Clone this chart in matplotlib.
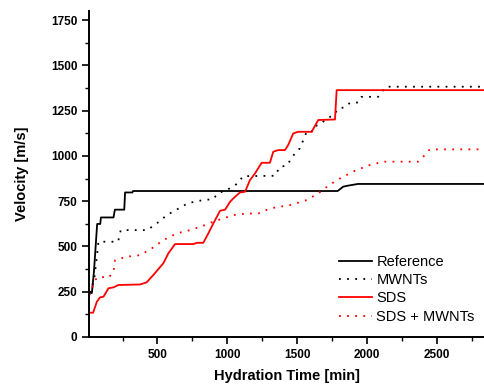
import matplotlib.pyplot as plt
from matplotlib.ticker import MultipleLocator

plt.rcParams['font.family'] = ['Liberation Sans', 'DejaVu Sans']

# Reference
ref_t = [10, 30, 45, 68, 90, 95, 185, 195, 262, 268, 320, 325, 1790, 1830, 1860, 1935, 2850]
ref_v = [243, 243, 360, 624, 624, 660, 660, 703, 703, 798, 798, 806, 806, 830, 835, 845, 845]

# MWNTs
mw_t = [15, 46, 66, 77, 218, 237, 426, 495, 567, 719, 826, 898, 934, 996, 1020, 1077, 1112,
        1341, 1377, 1425, 1484, 1520, 1544, 1568, 1604, 1615, 1651, 1771, 1794, 1842, 1878,
        1937, 1961, 2080, 2112, 2140, 2850]
mw_v = [245, 314, 443, 526, 526, 590, 590, 627, 673, 739, 756, 761, 794, 811, 822, 849, 888,
        890, 940, 946, 1014, 1042, 1087, 1133, 1133, 1161, 1170, 1234, 1262, 1268, 1293,
        1295, 1326, 1326, 1359, 1382, 1382]

# SDS
sds_t = [13, 39, 66, 89, 113, 149, 185, 220, 376, 423, 470, 542, 578, 626, 757, 781, 828,
         864, 900, 948, 984, 1020, 1055, 1091, 1127, 1162, 1198, 1246, 1305, 1329, 1365,
         1413, 1436, 1472, 1508, 1604, 1651, 1771, 1783, 2850]
sds_v = [134, 134, 195, 219, 222, 269, 274, 287, 290, 302, 342, 407, 462, 513, 513, 520, 520,
         572, 627, 697, 703, 747, 774, 798, 802, 866, 903, 962, 962, 1023, 1032,
         1032, 1060, 1124, 1133, 1133, 1198, 1201, 1363, 1363]

# SDS + MWNTs
sm_t = [13, 54, 77, 149, 185, 197, 280, 376, 459, 542, 638, 733, 828, 900, 1043, 1139, 1222,
        1305, 1449, 1568, 1651, 1699, 1783, 1854, 1925, 2020, 2116, 2366, 2414, 2450, 2850]
sm_v = [232, 315, 333, 327, 360, 425, 443, 452, 489, 535, 572, 590, 614, 637, 673, 682, 682,
        710, 728, 756, 793, 821, 866, 894, 922, 949, 968, 968, 1004, 1036, 1036]

fig = plt.figure(figsize=(4.84, 3.86), dpi=100)
ax = fig.add_axes([0.184, 0.127, 0.816, 0.8445])

dots = (0, (1, 3.5))
ax.plot(ref_t, ref_v, color='black', lw=1.3, label='Reference')
ax.plot(mw_t, mw_v, color='black', lw=1.3, ls=dots, label='MWNTs')
ax.plot(sds_t, sds_v, color='red', lw=1.3, label='SDS')
ax.plot(sm_t, sm_v, color='red', lw=1.3, ls=dots, label='SDS + MWNTs')

ax.set_xlim(10, 2838)
ax.set_ylim(0, 1800)
ax.xaxis.set_major_locator(MultipleLocator(500))
ax.xaxis.set_minor_locator(MultipleLocator(250))
ax.yaxis.set_major_locator(MultipleLocator(250))
ax.yaxis.set_minor_locator(MultipleLocator(125))
ax.tick_params(which='major', direction='out', length=5, width=1.2, labelsize=8.5)
ax.tick_params(which='minor', direction='out', length=3, width=1.0)
for lab in ax.get_xticklabels() + ax.get_yticklabels():
    lab.set_fontweight('bold')

ax.spines['right'].set_visible(False)
ax.spines['top'].set_visible(False)
ax.spines['left'].set_linewidth(1.4)
ax.spines['bottom'].set_linewidth(1.4)

ax.set_xlabel('Hydration Time [min]', fontsize=10.5, fontweight='bold', labelpad=6)
ax.set_ylabel('Velocity [m/s]', fontsize=10.5, fontweight='bold', labelpad=16)

ax.legend(loc='lower right', frameon=False, fontsize=10.5, handlelength=2.3,
          handletextpad=0.3, labelspacing=0.3, bbox_to_anchor=(1.01, 0.0))

plt.savefig('out.png', dpi=100)
